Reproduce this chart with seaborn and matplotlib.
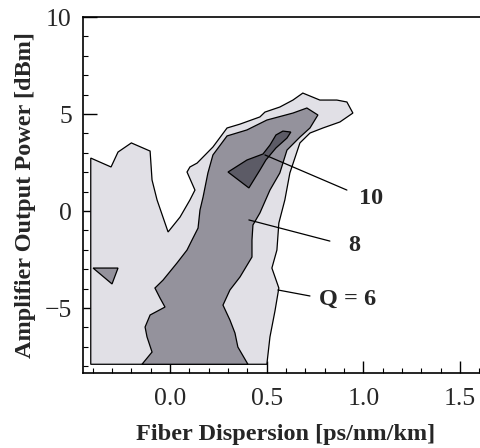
import numpy as np
import matplotlib
matplotlib.use('Agg')
import matplotlib.pyplot as plt
import seaborn as sns

# contour outlines (x: ps/nm/km, y: dBm)
q6_x = [-0.41, -0.41, -0.305, -0.269, -0.20, -0.103, -0.093, -0.067, -0.010, 0.052, 0.103, 0.129,
        0.088, 0.103, 0.140, 0.222, 0.295, 0.362, 0.465, 0.491, 0.568, 0.636, 0.687, 0.775, 0.863,
        0.915, 0.946, 0.879, 0.791, 0.724, 0.672, 0.620, 0.594, 0.563, 0.553, 0.527, 0.563, 0.543,
        0.517, 0.501]
q6_y = [-7.9, 2.73, 2.27, 3.04, 3.51, 3.09, 1.60, 0.57, -1.08, -0.31, 0.57, 1.08,
        2.01, 2.27, 2.47, 3.30, 4.28, 4.48, 4.85, 5.10, 5.36, 5.72, 6.08, 5.72, 5.72,
        5.62, 5.05, 4.59, 4.28, 4.02, 3.51, 1.96, 0.57, -0.62, -2.01, -2.94, -3.97, -5.15,
        -6.49, -7.9]

q8_x = [-0.145, -0.093, -0.119, -0.129, -0.103, -0.026, -0.052, -0.078, -0.036, 0.036, 0.088,
        0.114, 0.145, 0.155, 0.171, 0.196, 0.222, 0.295, 0.398, 0.501, 0.636, 0.708, 0.765,
        0.724, 0.672, 0.605, 0.568, 0.517, 0.465, 0.429, 0.424, 0.424, 0.362, 0.310, 0.274,
        0.310, 0.336, 0.351, 0.403]
q8_y = [-7.9, -7.27, -6.49, -5.98, -5.36, -4.95, -4.48, -3.97, -3.56, -2.68, -2.01,
        -1.49, -0.88, 0.05, 0.72, 1.96, 2.89, 3.87, 4.18, 4.69, 5.05, 5.31, 4.95,
        4.28, 3.81, 3.14, 1.96, 1.08, -0.10, -0.72, -1.49, -2.37, -3.40, -4.07, -4.85,
        -5.62, -6.29, -7.01, -7.9]

q8_island_x = [-0.398, -0.269, -0.300]
q8_island_y = [-2.94, -2.94, -3.76]

q10_x = [0.300, 0.398, 0.481, 0.517, 0.548, 0.584, 0.625, 0.605, 0.548, 0.496, 0.465, 0.408]
q10_y = [2.01, 2.63, 2.94, 3.40, 3.92, 4.12, 4.07, 3.76, 3.25, 2.63, 2.11, 1.19]

labels = ['10', '8', 'Q = 6']
label_from = [(0.491, 2.89), (0.408, -0.46), (0.558, -4.07)]
label_to = [(0.915, 1.08), (0.827, -1.55), (0.724, -4.38)]
label_at = [(0.98, 0.67), (0.92, -1.80), (0.77, -4.54)]

sns.set_style('ticks')
plt.rcParams['font.family'] = ['Liberation Serif', 'DejaVu Serif']

fig = plt.figure(figsize=(4.81, 4.48), dpi=100)
ax = fig.add_axes([0.1726, 0.1674, 0.844, 0.7946])

edge = dict(edgecolor='black', linewidth=0.9)
ax.fill(q6_x, q6_y, facecolor='#E1E0E6', **edge)
ax.fill(q8_x, q8_y, facecolor='#94929C', **edge)
ax.fill(q8_island_x, q8_island_y, facecolor='#94929C', **edge)
ax.fill(q10_x, q10_y, facecolor='#5C5B66', **edge)

for txt, p0, p1, pt in zip(labels, label_from, label_to, label_at):
    ax.plot([p0[0], p1[0]], [p0[1], p1[1]], color='black', linewidth=0.9)
    ax.text(pt[0], pt[1], txt, fontsize=17.5, fontweight='bold', ha='left', va='center')

ax.set_xlim(-0.45, 1.65)
ax.set_ylim(-8.35, 10)
ax.set_xticks([0.0, 0.5, 1.0, 1.5])
ax.set_xticklabels(['0.0', '0.5', '1.0', '1.5'])
ax.set_xticks(np.arange(-0.4, 1.65, 0.1), minor=True)
ax.set_yticks([-5, 0, 5, 10])
ax.set_yticks(np.arange(-8, 10, 1), minor=True)
ax.tick_params(which='both', direction='in', top=False, right=False, labelsize=18.5, color='black')
ax.tick_params(axis='x', which='major', length=9, width=1, pad=11)
ax.tick_params(axis='y', which='major', length=10, width=1, pad=8)
ax.tick_params(which='minor', length=3.5, width=0.8)
for s in ['left', 'top', 'bottom', 'right']:
    ax.spines[s].set_color('black')
    ax.spines[s].set_linewidth(1.2)

ax.set_xlabel('Fiber Dispersion [ps/nm/km]', fontsize=17.5, fontweight='bold', labelpad=10)
ax.set_ylabel('Amplifier Output Power [dBm]', fontsize=17.5, fontweight='bold', labelpad=6)

fig.savefig('out.png', dpi=100)
